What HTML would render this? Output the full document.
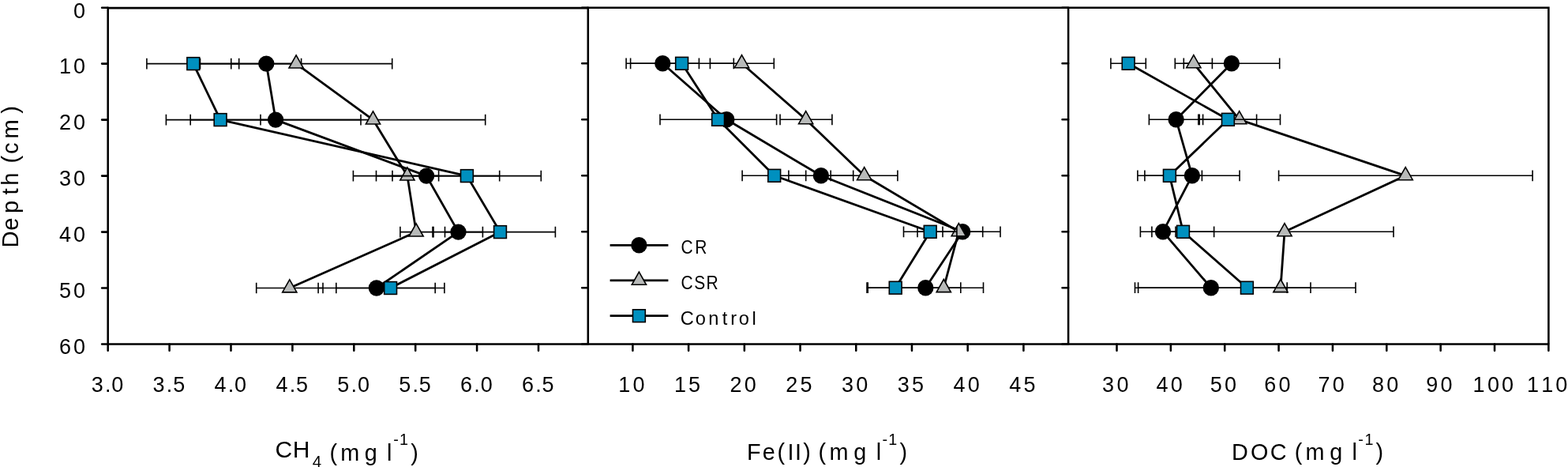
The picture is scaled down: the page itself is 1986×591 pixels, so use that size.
<!DOCTYPE html>
<html lang="en"><head><meta charset="utf-8"><title>Depth profiles of CH4, Fe(II) and DOC</title>
<style>html,body{margin:0;padding:0;background:#fff}body{width:1986px;height:591px;overflow:hidden}svg{display:block}text{font-family:"Liberation Sans",sans-serif;fill:#000}</style>
</head><body>
<svg width="1986" height="591" viewBox="0 0 1986 591">
<rect width="1986" height="591" fill="#fff"/>
<g>
<path d="M337.3 80.6L349.1 151.6L540.1 222.6L580.5 293.6L476.9 364.5" fill="none" stroke="#000" stroke-width="2.8" stroke-linejoin="round"/>
<path d="M292.75 80.6H381.6M292.75 73.75V87.45M381.6 73.75V87.45M241.2 151.6H457M241.2 144.75V158.45M457 144.75V158.45M447.4 222.6H632.7M447.4 215.75V229.45M632.7 215.75V229.45M549 293.6H611.4M549 286.75V300.45M611.4 286.75V300.45M403.1 364.5H551.2M403.1 357.65V371.35M551.2 357.65V371.35" fill="none" stroke="#000" stroke-width="1.6"/>
<circle cx="337.3" cy="80.6" r="10.2" fill="#000"/>
<circle cx="349.1" cy="151.6" r="10.2" fill="#000"/>
<circle cx="540.1" cy="222.6" r="10.2" fill="#000"/>
<circle cx="580.5" cy="293.6" r="10.2" fill="#000"/>
<circle cx="476.9" cy="364.5" r="10.2" fill="#000"/>
</g>
<g>
<path d="M375.1 80.6L472.5 151.6L515.9 222.6L527.1 293.6L366.8 364.5" fill="none" stroke="#000" stroke-width="2.8" stroke-linejoin="round"/>
<path d="M253.5 80.6H496.7M253.5 73.75V87.45M496.7 73.75V87.45M330 151.6H614.7M330 144.75V158.45M614.7 144.75V158.45M476.5 222.6H555.6M476.5 215.75V229.45M555.6 215.75V229.45M506.9 293.6H548M506.9 286.75V300.45M548 286.75V300.45M324.7 364.5H409M324.7 357.65V371.35M409 357.65V371.35" fill="none" stroke="#000" stroke-width="1.6"/>
<path d="M375.1 69.9L384.2 86L366 86Z" fill="#b8bab9" stroke="#000" stroke-width="1.6" stroke-linejoin="miter"/>
<path d="M472.5 140.9L481.6 157L463.4 157Z" fill="#b8bab9" stroke="#000" stroke-width="1.6" stroke-linejoin="miter"/>
<path d="M515.9 211.9L525 228L506.8 228Z" fill="#b8bab9" stroke="#000" stroke-width="1.6" stroke-linejoin="miter"/>
<path d="M527.1 282.9L536.2 299L518 299Z" fill="#b8bab9" stroke="#000" stroke-width="1.6" stroke-linejoin="miter"/>
<path d="M366.8 353.8L375.9 369.9L357.7 369.9Z" fill="#b8bab9" stroke="#000" stroke-width="1.6" stroke-linejoin="miter"/>
</g>
<g>
<path d="M244.8 80.6L279.1 151.6L591.4 222.6L633.5 293.6L494.6 364.5" fill="none" stroke="#000" stroke-width="2.8" stroke-linejoin="round"/>
<path d="M185.9 80.6H302.7M185.9 73.75V87.45M302.7 73.75V87.45M210.4 151.6H347.8M210.4 144.75V158.45M347.8 144.75V158.45M497 222.6H685.3M497 215.75V229.45M685.3 215.75V229.45M563.5 293.6H703.4M563.5 286.75V300.45M703.4 286.75V300.45M425.8 364.5H562.9M425.8 357.65V371.35M562.9 357.65V371.35" fill="none" stroke="#000" stroke-width="1.6"/>
<rect x="236.9" y="72.7" width="15.8" height="15.8" fill="#0090bf" stroke="#000" stroke-width="1.6"/>
<rect x="271.2" y="143.7" width="15.8" height="15.8" fill="#0090bf" stroke="#000" stroke-width="1.6"/>
<rect x="583.5" y="214.7" width="15.8" height="15.8" fill="#0090bf" stroke="#000" stroke-width="1.6"/>
<rect x="625.6" y="285.7" width="15.8" height="15.8" fill="#0090bf" stroke="#000" stroke-width="1.6"/>
<rect x="486.7" y="356.6" width="15.8" height="15.8" fill="#0090bf" stroke="#000" stroke-width="1.6"/>
</g>
<g>
<path d="M839.3 80.3L920.3 151.3L1039.9 222.3L1219.2 293.3L1172.3 364.2" fill="none" stroke="#000" stroke-width="2.8" stroke-linejoin="round"/>
<path d="M793.1 80.3H885.4M793.1 73.45V87.15M885.4 73.45V87.15M915 151.3H925M915 144.45V158.15M925 144.45V158.15M998.9 222.3H1080.7M998.9 215.45V229.15M1080.7 215.45V229.15M1194 293.3H1244.7M1194 286.45V300.15M1244.7 286.45V300.15M1098 364.2H1245.5M1098 357.35V371.05M1245.5 357.35V371.05" fill="none" stroke="#000" stroke-width="1.6"/>
<circle cx="839.3" cy="80.3" r="10.2" fill="#000"/>
<circle cx="920.3" cy="151.3" r="10.2" fill="#000"/>
<circle cx="1039.9" cy="222.3" r="10.2" fill="#000"/>
<circle cx="1219.2" cy="293.3" r="10.2" fill="#000"/>
<circle cx="1172.3" cy="364.2" r="10.2" fill="#000"/>
</g>
<g>
<path d="M939.5 80.3L1020.65 151.3L1094.7 222.3L1214.3 293.3L1195.3 364.2" fill="none" stroke="#000" stroke-width="2.8" stroke-linejoin="round"/>
<path d="M899.4 80.3H980.3M899.4 73.45V87.15M980.3 73.45V87.15M988.05 151.3H1053.9M988.05 144.45V158.15M1053.9 144.45V158.15M1052.2 222.3H1136.9M1052.2 215.45V229.15M1136.9 215.45V229.15M1162 293.3H1267M1162 286.45V300.15M1267 286.45V300.15M1173.8 364.2H1216.8M1173.8 357.35V371.05M1216.8 357.35V371.05" fill="none" stroke="#000" stroke-width="1.6"/>
<path d="M939.5 69.6L948.6 85.7L930.4 85.7Z" fill="#b8bab9" stroke="#000" stroke-width="1.6" stroke-linejoin="miter"/>
<path d="M1020.65 140.6L1029.75 156.7L1011.55 156.7Z" fill="#b8bab9" stroke="#000" stroke-width="1.6" stroke-linejoin="miter"/>
<path d="M1094.7 211.6L1103.8 227.7L1085.6 227.7Z" fill="#b8bab9" stroke="#000" stroke-width="1.6" stroke-linejoin="miter"/>
<path d="M1214.3 282.6L1223.4 298.7L1205.2 298.7Z" fill="#b8bab9" stroke="#000" stroke-width="1.6" stroke-linejoin="miter"/>
<path d="M1195.3 353.5L1204.4 369.6L1186.2 369.6Z" fill="#b8bab9" stroke="#000" stroke-width="1.6" stroke-linejoin="miter"/>
</g>
<g>
<path d="M863.6 80.3L909.6 151.3L980.7 222.3L1178.2 293.3L1134.2 364.2" fill="none" stroke="#000" stroke-width="2.8" stroke-linejoin="round"/>
<path d="M798.6 80.3H929.3M798.6 73.45V87.15M929.3 73.45V87.15M836 151.3H983.6M836 144.45V158.15M983.6 144.45V158.15M940.1 222.3H1020.7M940.1 215.45V229.15M1020.7 215.45V229.15M1144.5 293.3H1211.9M1144.5 286.45V300.15M1211.9 286.45V300.15M1099.2 364.2H1169.7M1099.2 357.35V371.05M1169.7 357.35V371.05" fill="none" stroke="#000" stroke-width="1.6"/>
<rect x="855.7" y="72.4" width="15.8" height="15.8" fill="#0090bf" stroke="#000" stroke-width="1.6"/>
<rect x="901.7" y="143.4" width="15.8" height="15.8" fill="#0090bf" stroke="#000" stroke-width="1.6"/>
<rect x="972.8" y="214.4" width="15.8" height="15.8" fill="#0090bf" stroke="#000" stroke-width="1.6"/>
<rect x="1170.3" y="285.4" width="15.8" height="15.8" fill="#0090bf" stroke="#000" stroke-width="1.6"/>
<rect x="1126.3" y="356.3" width="15.8" height="15.8" fill="#0090bf" stroke="#000" stroke-width="1.6"/>
</g>
<g>
<path d="M1559.9 80.3L1489.65 151.3L1509.9 222.3L1473 293.3L1533.85 364.2" fill="none" stroke="#000" stroke-width="2.8" stroke-linejoin="round"/>
<path d="M1499.3 80.3H1620.7M1499.3 73.45V87.15M1620.7 73.45V87.15M1455.4 151.3H1523.6M1455.4 144.45V158.15M1523.6 144.45V158.15M1449.9 222.3H1570.05M1449.9 215.45V229.15M1570.05 215.45V229.15M1444.4 293.3H1501.6M1444.4 286.45V300.15M1501.6 286.45V300.15M1437.5 364.2H1630.2M1437.5 357.35V371.05M1630.2 357.35V371.05" fill="none" stroke="#000" stroke-width="1.6"/>
<circle cx="1559.9" cy="80.3" r="10.2" fill="#000"/>
<circle cx="1489.65" cy="151.3" r="10.2" fill="#000"/>
<circle cx="1509.9" cy="222.3" r="10.2" fill="#000"/>
<circle cx="1473" cy="293.3" r="10.2" fill="#000"/>
<circle cx="1533.85" cy="364.2" r="10.2" fill="#000"/>
</g>
<g>
<path d="M1511.85 80.3L1569.7 151.3L1780.2 222.3L1627 293.3L1622 364.2" fill="none" stroke="#000" stroke-width="2.8" stroke-linejoin="round"/>
<path d="M1488.3 80.3H1535.4M1488.3 73.45V87.15M1535.4 73.45V87.15M1517.9 151.3H1621.5M1517.9 144.45V158.15M1621.5 144.45V158.15M1619.6 222.3H1941.1M1619.6 215.45V229.15M1941.1 215.45V229.15M1489 293.3H1765M1489 286.45V300.15M1765 286.45V300.15M1584 364.2H1660M1584 357.35V371.05M1660 357.35V371.05" fill="none" stroke="#000" stroke-width="1.6"/>
<path d="M1511.85 69.6L1520.95 85.7L1502.75 85.7Z" fill="#b8bab9" stroke="#000" stroke-width="1.6" stroke-linejoin="miter"/>
<path d="M1569.7 140.6L1578.8 156.7L1560.6 156.7Z" fill="#b8bab9" stroke="#000" stroke-width="1.6" stroke-linejoin="miter"/>
<path d="M1780.2 211.6L1789.3 227.7L1771.1 227.7Z" fill="#b8bab9" stroke="#000" stroke-width="1.6" stroke-linejoin="miter"/>
<path d="M1627 282.6L1636.1 298.7L1617.9 298.7Z" fill="#b8bab9" stroke="#000" stroke-width="1.6" stroke-linejoin="miter"/>
<path d="M1622 353.5L1631.1 369.6L1612.9 369.6Z" fill="#b8bab9" stroke="#000" stroke-width="1.6" stroke-linejoin="miter"/>
</g>
<g>
<path d="M1429.15 80.3L1555.4 151.3L1481.4 222.3L1498.5 293.3L1579.4 364.2" fill="none" stroke="#000" stroke-width="2.8" stroke-linejoin="round"/>
<path d="M1406.9 80.3H1451.3M1406.9 73.45V87.15M1451.3 73.45V87.15M1519.2 151.3H1591.6M1519.2 144.45V158.15M1591.6 144.45V158.15M1440.9 222.3H1522.4M1440.9 215.45V229.15M1522.4 215.45V229.15M1458.9 293.3H1537.65M1458.9 286.45V300.15M1537.65 286.45V300.15M1441.6 364.2H1717M1441.6 357.35V371.05M1717 357.35V371.05" fill="none" stroke="#000" stroke-width="1.6"/>
<rect x="1421.25" y="72.4" width="15.8" height="15.8" fill="#0090bf" stroke="#000" stroke-width="1.6"/>
<rect x="1547.5" y="143.4" width="15.8" height="15.8" fill="#0090bf" stroke="#000" stroke-width="1.6"/>
<rect x="1473.5" y="214.4" width="15.8" height="15.8" fill="#0090bf" stroke="#000" stroke-width="1.6"/>
<rect x="1490.6" y="285.4" width="15.8" height="15.8" fill="#0090bf" stroke="#000" stroke-width="1.6"/>
<rect x="1571.5" y="356.3" width="15.8" height="15.8" fill="#0090bf" stroke="#000" stroke-width="1.6"/>
</g>
<path d="M136.7 10.1H744.8M743.52 9.7H1962.68M136.7 435.4H1961.4M136.7 8.82V435.4M744.8 8.42V436.67M1353.1 8.42V436.67M1961.4 8.42V435.4" fill="none" stroke="#000" stroke-width="2.55"/>
<path d="M136.7 9.7H129.1M136.7 80.6H129.1M136.7 151.6H129.1M136.7 222.6H129.1M136.7 293.6H129.1M136.7 364.5H129.1M136.7 435.4H129.1M744.8 9.7H737.2M744.8 80.3H737.2M744.8 151.3H737.2M744.8 222.3H737.2M744.8 293.3H737.2M744.8 364.2H737.2M744.8 435.4H737.2M1353.1 9.7H1345.5M1353.1 80.3H1345.5M1353.1 151.3H1345.5M1353.1 222.3H1345.5M1353.1 293.3H1345.5M1353.1 364.2H1345.5M1353.1 435.4H1345.5M136.7 435.4V443.7M214.6 435.4V443.7M292.5 435.4V443.7M370.4 435.4V443.7M448.3 435.4V443.7M526.2 435.4V443.7M604.1 435.4V443.7M682 435.4V443.7M801.4 435.4V443.7M872.11 435.4V443.7M942.83 435.4V443.7M1013.54 435.4V443.7M1084.26 435.4V443.7M1154.97 435.4V443.7M1225.68 435.4V443.7M1296.4 435.4V443.7M1414.5 435.4V443.7M1482.86 435.4V443.7M1551.22 435.4V443.7M1619.58 435.4V443.7M1687.94 435.4V443.7M1756.3 435.4V443.7M1824.66 435.4V443.7M1893.02 435.4V443.7M1961.38 435.4V443.7" fill="none" stroke="#000" stroke-width="2.55" stroke-linecap="round"/>
<path d="M772.6 310.3H846.4" stroke="#000" stroke-width="2.8" fill="none"/>
<circle cx="809.4" cy="310.3" r="10.2" fill="#000"/>
<path d="M772.6 354.9H846.4" stroke="#000" stroke-width="2.8" fill="none"/>
<path d="M809.4 344.2L818.5 360.3L800.3 360.3Z" fill="#b8bab9" stroke="#000" stroke-width="1.6" stroke-linejoin="miter"/>
<path d="M772.6 399.7H846.4" stroke="#000" stroke-width="2.8" fill="none"/>
<rect x="801.5" y="391.8" width="15.8" height="15.8" fill="#0090bf" stroke="#000" stroke-width="1.6"/>
<text x="93.09" y="22.6" font-size="27">0</text>
<text x="74.89 93.09" y="93.1" font-size="27">10</text>
<text x="74.89 93.09" y="164.1" font-size="27">20</text>
<text x="74.89 93.09" y="235.1" font-size="27">30</text>
<text x="74.89 93.09" y="306.1" font-size="27">40</text>
<text x="74.89 93.09" y="377" font-size="27">50</text>
<text x="74.89 93.09" y="447.9" font-size="27">60</text>
<text x="115.69 132.95 141.29" y="495.6" font-size="27">3.0</text>
<text x="193.59 210.85 219.19" y="495.6" font-size="27">3.5</text>
<text x="271.49 288.75 297.09" y="495.6" font-size="27">4.0</text>
<text x="349.39 366.65 374.99" y="495.6" font-size="27">4.5</text>
<text x="427.29 444.55 452.89" y="495.6" font-size="27">5.0</text>
<text x="505.19 522.45 530.79" y="495.6" font-size="27">5.5</text>
<text x="583.09 600.35 608.69" y="495.6" font-size="27">6.0</text>
<text x="660.99 678.25 686.59" y="495.6" font-size="27">6.5</text>
<text x="783.19 801.39" y="495.6" font-size="27">10</text>
<text x="853.91 872.11" y="495.6" font-size="27">15</text>
<text x="924.62 942.82" y="495.6" font-size="27">20</text>
<text x="995.33 1013.53" y="495.6" font-size="27">25</text>
<text x="1066.05 1084.25" y="495.6" font-size="27">30</text>
<text x="1136.76 1154.96" y="495.6" font-size="27">35</text>
<text x="1207.48 1225.68" y="495.6" font-size="27">40</text>
<text x="1278.19 1296.39" y="495.6" font-size="27">45</text>
<text x="1396.09 1414.39" y="495.6" font-size="27">30</text>
<text x="1464.45 1482.75" y="495.6" font-size="27">40</text>
<text x="1532.81 1551.11" y="495.6" font-size="27">50</text>
<text x="1601.17 1619.47" y="495.6" font-size="27">60</text>
<text x="1669.53 1687.83" y="495.6" font-size="27">70</text>
<text x="1737.89 1756.19" y="495.6" font-size="27">80</text>
<text x="1806.25 1824.55" y="495.6" font-size="27">90</text>
<text x="1865.61 1883.91 1901.91" y="495.6" font-size="27">100</text>
<text x="1933.97 1952.27 1970.27" y="495.6" font-size="27">110</text>
<text transform="scale(0.88 1)" x="980.09 1000.19" y="321.3" font-size="23.8">CR</text>
<text transform="scale(0.88 1)" x="980.09 999.28 1016.61" y="365.9" font-size="23.8">CSR</text>
<text x="861.86 880.79 897.37 914.63 925.13 935.69 952.52" y="410.5" font-size="23.6">Control</text>
<text><tspan x="348.53 370.76" y="579.3" font-size="30">CH</tspan><tspan x="395.81" y="591.2" font-size="20.5">4</tspan><tspan x="409.39 417.4 431.35 461.81 477.83 490.09" y="582.5" font-size="28.8"> (mg l</tspan><tspan x="498.2 505.92" y="563.4" font-size="19.8">-1</tspan><tspan x="520.31" y="582.5" font-size="28.8">)</tspan></text>
<text><tspan x="946.1 965.67 984.55 997.4 1007 1017.16 1026.75 1036.55 1050.5 1081.26 1097.28 1109.69" y="582.1" font-size="28.8">Fe(II) (mg l</tspan><tspan x="1117.55 1125.32" y="562.7" font-size="19.8">-1</tspan><tspan x="1139.56" y="582.1" font-size="28.8">)</tspan></text>
<text><tspan x="1559.96 1583.96 1608.82" y="582.1" font-size="28.8">DOC</tspan><tspan x="1631.64 1639.65 1653.6 1684.26 1700.28 1712.49" y="582.1" font-size="28.8"> (mg l</tspan><tspan x="1720.3 1728.42" y="562.7" font-size="19.8">-1</tspan><tspan x="1742.51" y="582.1" font-size="28.8">)</tspan></text>
<text transform="rotate(-90)"><tspan x="-313.49 -291.64 -270 -246.62 -234.78 -218.54 -206.58 -194.94 -175.52 -143.87" y="22.7" font-size="29.2">Depth (cm)</tspan></text>
</svg>
</body></html>
